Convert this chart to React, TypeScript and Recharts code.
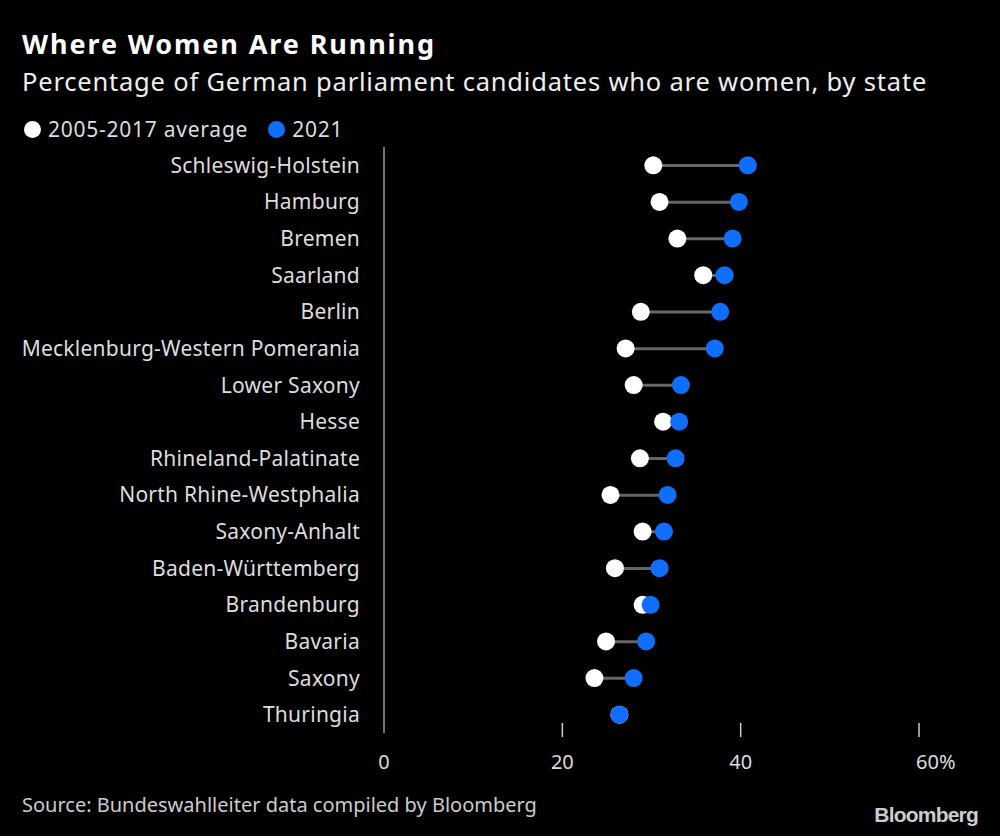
import { Bar, ComposedChart, Line, XAxis, YAxis } from 'recharts'

const states = [
  'Schleswig-Holstein',
  'Hamburg',
  'Bremen',
  'Saarland',
  'Berlin',
  'Mecklenburg-Western Pomerania',
  'Lower Saxony',
  'Hesse',
  'Rhineland-Palatinate',
  'North Rhine-Westphalia',
  'Saxony-Anhalt',
  'Baden-Württemberg',
  'Brandenburg',
  'Bavaria',
  'Saxony',
  'Thuringia',
]
const average = [30.2, 30.9, 32.9, 35.8, 28.8, 27.1, 28.0, 31.3, 28.7, 25.4, 29.0, 25.9, 29.0, 24.9, 23.6, 26.4]
const y2021 = [40.8, 39.8, 39.1, 38.2, 37.7, 37.1, 33.3, 33.1, 32.7, 31.8, 31.4, 30.9, 29.9, 29.4, 28.0, 26.4]
const xTicks = [0, 20, 40, 60]

const data = states.map((state, i) => ({
  state,
  avg: average[i],
  y2021: y2021[i],
  range: [Math.min(average[i], y2021[i]), Math.max(average[i], y2021[i])],
}))

const FONT = '"Noto Sans", "Open Sans", sans-serif'

function XTick({ x, y, payload }: any) {
  const last = payload.value === 60
  return (
    <g>
      {payload.value !== 0 && <line x1={x} x2={x} y1={y - 10} y2={y + 4} stroke="#ccc" strokeWidth={1.5} />}
      <text
        x={last ? x - 3 : x}
        y={y + 36}
        textAnchor={last ? 'start' : 'middle'}
        fill="#ddd"
        fontSize={20}
        fontFamily={FONT}
      >
        {last ? '60%' : payload.value}
      </text>
    </g>
  )
}

export default function App() {
  return (
    <div
      style={{
        position: 'absolute',
        left: 0,
        top: 0,
        width: 1000,
        height: 836,
        background: '#000',
        fontFamily: FONT,
        color: '#fff',
        overflow: 'hidden',
      }}
    >
      <div style={{ position: 'absolute', left: 22, top: 28, fontSize: 27, fontWeight: 700, lineHeight: '32px', letterSpacing: 1.9 }}>
        Where Women Are Running
      </div>
      <div style={{ position: 'absolute', left: 22, top: 65, fontSize: 25.5, lineHeight: '32px', color: '#eee', letterSpacing: 0.8 }}>
        Percentage of German parliament candidates who are women, by state
      </div>
      <div
        style={{
          position: 'absolute',
          left: 24,
          top: 115,
          fontSize: 21,
          lineHeight: '28px',
          color: '#ddd',
          letterSpacing: 0.75,
          display: 'flex',
          alignItems: 'center',
        }}
      >
        <span style={{ width: 17, height: 17, borderRadius: '50%', background: '#fff', display: 'inline-block', marginRight: 7 }} />
        <span>2005-2017 average</span>
        <span style={{ width: 17, height: 17, borderRadius: '50%', background: '#0f6ffc', display: 'inline-block', marginLeft: 20, marginRight: 7 }} />
        <span>2021</span>
      </div>

      <div style={{ position: 'absolute', left: 0, top: 0 }}>
        <ComposedChart
          width={1000}
          height={836}
          data={data}
          layout="vertical"
          margin={{ top: 147, right: 81, bottom: 0, left: 0 }}
        >
          <XAxis
            type="number"
            domain={[0, 60]}
            ticks={xTicks}
            axisLine={false}
            tickLine={false}
            tickSize={0}
            tickMargin={0}
            height={103}
            tick={<XTick />}
            interval={0}
          />
          <YAxis
            type="category"
            dataKey="state"
            width={384}
            axisLine={{ stroke: '#999', strokeWidth: 1.5 }}
            tickLine={false}
            tickSize={0}
            tickMargin={24}
            interval={0}
            tick={{ fill: '#ddd', fontSize: 21, fontFamily: FONT, letterSpacing: 0.25 }}
          />
          <Bar dataKey="range" barSize={3} fill="#666" isAnimationActive={false} />
          <Line
            dataKey="avg"
            stroke="none"
            dot={{ r: 9, fill: '#fff', stroke: 'none' }}
            activeDot={false}
            isAnimationActive={false}
          />
          <Line
            dataKey="y2021"
            stroke="none"
            dot={{ r: 9, fill: '#0f6ffc', stroke: 'none' }}
            activeDot={false}
            isAnimationActive={false}
          />
        </ComposedChart>
      </div>

      <div style={{ position: 'absolute', left: 22, top: 792, fontSize: 20, lineHeight: '26px', color: '#ccc' }}>
        Source: Bundeswahlleiter data compiled by Bloomberg
      </div>
      <div
        style={{
          position: 'absolute',
          right: 22,
          top: 802,
          fontSize: 21,
          fontWeight: 700,
          lineHeight: '26px',
          color: '#ccc',
          letterSpacing: -0.8,
          fontFamily: '"Liberation Sans", Arial, sans-serif',
        }}
      >
        Bloomberg
      </div>
    </div>
  )
}
